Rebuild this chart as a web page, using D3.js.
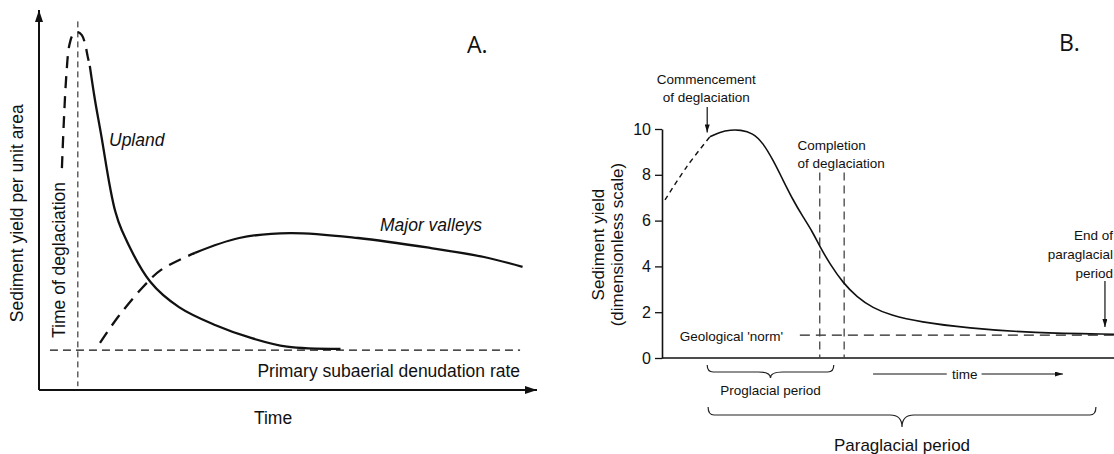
<!DOCTYPE html>
<html><head><meta charset="utf-8">
<script src="https://cdn.jsdelivr.net/npm/d3@7"></script>
<style>
body{margin:0;background:#fff}
svg{display:block}
text{font-family:"Liberation Sans",Arial,Helvetica,sans-serif;fill:#111}
</style>
</head><body><svg id="c" width="1114" height="454"></svg>
<script>
// ---------- Panel A data (arbitrary time / yield units) ----------
const aDeglacTime = 7.8;
const aNormLevel = 10.5;
const aUplandDashed = [[4.6,58.4],[5.0,71],[5.5,83],[6.1,90.8],[6.9,93.7],[7.8,94.2],[8.6,93.4],[9.2,91.4],[9.8,87.6],[10.2,85.3]];
const aUplandSolid = [[10.2,85.3],[11.24,76.3],[12.5,67.0],[14.26,53.4],[15.3,47.1],[16.61,42.1],[22.39,28.4],[28.11,21.8],[35.34,17.1],[42.57,13.7],[49.8,11.4],[60.54,10.8]];
const aValleyDashed = [[12.25,12.4],[15.86,19.2],[20.88,27.1],[24.5,31.6],[31.33,36.1]];
const aValleySolid = [[31.33,36.1],[40.2,40],[50.4,41.3],[64.06,40],[78.5,37.4],[89.36,35],[97.1,32.4]];

// ---------- Panel B data (dimensionless) ----------
const bTicks = [0,2,4,6,8,10];
const bDashed = [[0.66,6.9],[5.46,8.35],[10.6,9.66]];
const bSolid = [[10.6,9.66],[12.8,9.87],[15.2,9.96],[17.3,9.96],[20.1,9.83],[22.35,9.39],[24.56,8.65],[26.77,7.77],[28.98,6.9],[31.19,6.16],[33.19,5.55],[34.96,4.85],[37.17,4.1],[40.04,3.28],[43.14,2.66],[46.68,2.18],[50.44,1.88],[57.08,1.57],[67.5,1.31],[82.1,1.09],[100,1.04]];
const bNorm = 1;
const bDeglacEnd = [34.9, 40.3];
const bCommence = 10;
const bEnd = 98;
const bProglacial = [10, 38];
const bParaglacial = [10.2, 96];

const svg = d3.select("#c");
const defs = svg.append("defs");
function marker(id, w, h){
  defs.append("marker").attr("id",id).attr("markerUnits","userSpaceOnUse")
    .attr("viewBox",`0 0 ${w} ${h}`).attr("refX",w).attr("refY",h/2)
    .attr("markerWidth",w).attr("markerHeight",h).attr("orient","auto")
    .append("path").attr("d",`M0,0L${w},${h/2}L0,${h}Z`).attr("fill","#111");
}
marker("bigArrow",12,8);
marker("smallArrow",8,5);

// ================= PANEL A =================
const xA = d3.scaleLinear([0,100],[39,537]);
const yA = d3.scaleLinear([0,100],[390,10]);
const gA = svg.append("g");
const lineA = d3.line().x(d=>xA(d[0])).y(d=>yA(d[1])).curve(d3.curveCatmullRom.alpha(0.5));

// axes
gA.append("line").attr("x1",xA(0)).attr("y1",yA(0)).attr("x2",xA(100)).attr("y2",yA(0))
  .attr("stroke","#111").attr("stroke-width",2).attr("marker-end","url(#bigArrow)");
gA.append("line").attr("x1",xA(0)).attr("y1",yA(0)).attr("x2",xA(0)).attr("y2",yA(100))
  .attr("stroke","#111").attr("stroke-width",2).attr("marker-end","url(#bigArrow)");

// reference lines
gA.append("line").attr("x1",xA(aDeglacTime)).attr("x2",xA(aDeglacTime)).attr("y1",yA(97)).attr("y2",yA(1))
  .attr("stroke","#111").attr("stroke-width",1).attr("stroke-dasharray","6,4");
gA.append("line").attr("x1",xA(2.2)).attr("x2",xA(96.6)).attr("y1",yA(aNormLevel)).attr("y2",yA(aNormLevel))
  .attr("stroke","#111").attr("stroke-width",1.2).attr("stroke-dasharray","8,5");

// curves
gA.append("path").attr("d",lineA(aUplandDashed)).attr("fill","none").attr("stroke","#111").attr("stroke-width",2.3).attr("stroke-dasharray","12,8");
gA.append("path").attr("d",lineA(aUplandSolid)).attr("fill","none").attr("stroke","#111").attr("stroke-width",2.3);
gA.append("path").attr("d",lineA(aValleyDashed)).attr("fill","none").attr("stroke","#111").attr("stroke-width",2.3).attr("stroke-dasharray","13,8");
gA.append("path").attr("d",lineA(aValleySolid)).attr("fill","none").attr("stroke","#111").attr("stroke-width",2.3);

// texts
const fA = "17.5px";
gA.append("text").attr("transform",`translate(23,${yA(46.5)}) rotate(-90)`).attr("text-anchor","middle").style("font-size",fA).text("Sediment yield per unit area");
gA.append("text").attr("transform",`translate(65,${yA(13.7)}) rotate(-90)`).attr("text-anchor","start").style("font-size",fA).text("Time of deglaciation");
gA.append("text").attr("x",xA(47)).attr("y",424).attr("text-anchor","middle").style("font-size",fA).text("Time");
gA.append("text").attr("x",xA(96.6)).attr("y",377).attr("text-anchor","end").style("font-size",fA).text("Primary subaerial denudation rate");
gA.append("text").attr("x",109).attr("y",146).style("font-size",fA).style("font-style","italic").text("Upland");
gA.append("text").attr("x",380).attr("y",231).style("font-size",fA).style("font-style","italic").text("Major valleys");
gA.append("text").attr("x",467).attr("y",53).style("font-size","23px").style("font-family","'Open Sans',sans-serif").text("A.");

// ================= PANEL B =================
const xB = d3.scaleLinear([0,100],[662,1114]);
const yB = d3.scaleLinear([0,10],[358,129]);
const gB = svg.append("g");
const lineB = d3.line().x(d=>xB(d[0])).y(d=>yB(d[1])).curve(d3.curveCatmullRom.alpha(0.5));
const lineBs = d3.line().x(d=>xB(d[0])).y(d=>yB(d[1])).curve(d3.curveBasis);

const yAxis = d3.axisLeft(yB).tickValues(bTicks).tickSize(7).tickSizeOuter(0).tickPadding(4);
const ya = gB.append("g").attr("transform",`translate(${xB(0)},0)`).call(yAxis);
ya.select(".domain").attr("stroke","#111").attr("stroke-width",1.6);
ya.selectAll(".tick line").attr("stroke","#111").attr("stroke-width",1.3);
ya.selectAll(".tick text").style("font-size","16px").attr("fill","#111").style("font-family","'Liberation Sans',Arial,sans-serif");
gB.append("line").attr("x1",xB(0)).attr("x2",xB(100)).attr("y1",yB(0)).attr("y2",yB(0)).attr("stroke","#111").attr("stroke-width",1.6);

// reference lines
gB.append("line").attr("x1",xB(30.5)).attr("x2",xB(100)).attr("y1",yB(bNorm)).attr("y2",yB(bNorm))
  .attr("stroke","#222").attr("stroke-width",1.2).attr("stroke-dasharray","10,6");
bDeglacEnd.forEach(t=>{
  gB.append("line").attr("x1",xB(t)).attr("x2",xB(t)).attr("y1",yB(8.1)).attr("y2",yB(0))
    .attr("stroke","#444").attr("stroke-width",1.3).attr("stroke-dasharray","8,5");
});

// curve
gB.append("path").attr("d",lineB(bDashed)).attr("fill","none").attr("stroke","#111").attr("stroke-width",1.4).attr("stroke-dasharray","5,4");
gB.append("path").attr("d",lineBs(bSolid)).attr("fill","none").attr("stroke","#111").attr("stroke-width",1.6);

// labels
const fB = "13.5px";
gB.append("text").attr("transform",`translate(604,${yB(4.95)}) rotate(-90)`).attr("text-anchor","middle").style("font-size","17px").text("Sediment yield");
gB.append("text").attr("transform",`translate(623,${yB(4.95)}) rotate(-90)`).attr("text-anchor","middle").style("font-size","17px").text("(dimensionless scale)");

gB.append("text").attr("x",xB(bCommence)-1).attr("y",84).attr("text-anchor","middle").style("font-size",fB).text("Commencement");
gB.append("text").attr("x",xB(bCommence)-1).attr("y",102).attr("text-anchor","middle").style("font-size",fB).text("of deglaciation");
gB.append("line").attr("x1",xB(bCommence)).attr("x2",xB(bCommence)).attr("y1",107).attr("y2",yB(9.85))
  .attr("stroke","#111").attr("stroke-width",1.2).attr("marker-end","url(#smallArrow)");

gB.append("text").attr("x",xB(30)).attr("y",150).style("font-size",fB).text("Completion");
gB.append("text").attr("x",xB(30)).attr("y",168).style("font-size",fB).text("of deglaciation");

gB.append("text").attr("x",xB(26.8)).attr("y",341).attr("text-anchor","end").style("font-size",fB).text("Geological 'norm'");

gB.append("text").attr("x",1113).attr("y",240).attr("text-anchor","end").style("font-size",fB).text("End of");
gB.append("text").attr("x",1113).attr("y",259).attr("text-anchor","end").style("font-size",fB).text("paraglacial");
gB.append("text").attr("x",1113).attr("y",278).attr("text-anchor","end").style("font-size",fB).text("period");
gB.append("line").attr("x1",xB(bEnd)).attr("x2",xB(bEnd)).attr("y1",281).attr("y2",yB(1.35))
  .attr("stroke","#111").attr("stroke-width",1.2).attr("marker-end","url(#smallArrow)");

// time arrow
gB.append("line").attr("x1",xB(46.7)).attr("x2",xB(63)).attr("y1",374).attr("y2",374).attr("stroke","#111").attr("stroke-width",1.2);
gB.append("text").attr("x",xB(67)).attr("y",379).attr("text-anchor","middle").style("font-size",fB).text("time");
gB.append("line").attr("x1",xB(70.7)).attr("x2",xB(88.7)).attr("y1",374).attr("y2",374).attr("stroke","#111").attr("stroke-width",1.2).attr("marker-end","url(#smallArrow)");

// braces
function brace(x1,x2,yTop,yBot,yTip){
  const xm=(x1+x2)/2, r=6;
  return `M${x1},${yTop} Q${x1},${yBot} ${x1+r},${yBot} L${xm-r*2},${yBot} Q${xm},${yBot} ${xm},${yTip} Q${xm},${yBot} ${xm+r*2},${yBot} L${x2-r},${yBot} Q${x2},${yBot} ${x2},${yTop}`;
}
gB.append("path").attr("d",brace(xB(bProglacial[0]),xB(bProglacial[1]),365,372,378)).attr("fill","none").attr("stroke","#222").attr("stroke-width",1.2);
gB.append("text").attr("x",(xB(bProglacial[0])+xB(bProglacial[1]))/2).attr("y",395).attr("text-anchor","middle").style("font-size",fB).text("Proglacial period");
gB.append("path").attr("d",brace(xB(bParaglacial[0]),xB(bParaglacial[1]),407,415,427)).attr("fill","none").attr("stroke","#222").attr("stroke-width",1.2);
gB.append("text").attr("x",(xB(bParaglacial[0])+xB(bParaglacial[1]))/2).attr("y",451).attr("text-anchor","middle").style("font-size","17px").text("Paraglacial period");

gB.append("text").attr("x",1059).attr("y",51).style("font-size","23px").style("font-family","'Open Sans',sans-serif").text("B.");
</script>
</body></html>
